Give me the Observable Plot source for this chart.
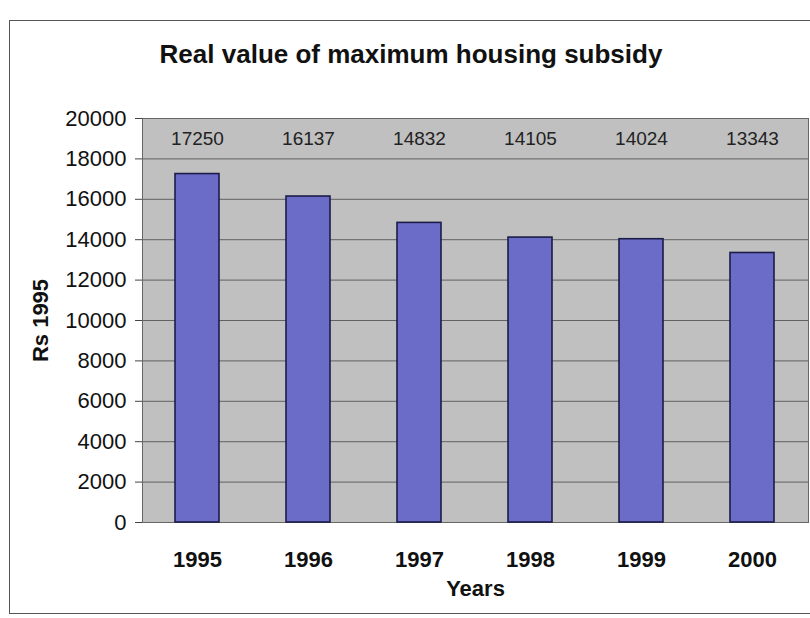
<!DOCTYPE html>
<html>
<head>
<meta charset="utf-8">
<script src="https://cdn.jsdelivr.net/npm/d3@7"></script>
<script src="https://cdn.jsdelivr.net/npm/@observablehq/plot@0.6"></script>
<style>
  html, body { margin: 0; padding: 0; background: #fff; }
  #wrap { position: relative; width: 810px; height: 618px; overflow: hidden; font-family: "Liberation Sans", Arial, sans-serif; }
  #border { position: absolute; left: 9px; top: 20px; width: 820px; height: 594px; border: 1.5px solid #555; border-right: none; box-sizing: border-box; }
  #title { position: absolute; left: 0; width: 822px; top: 39px; text-align: center; font-weight: bold; font-size: 26px; color: #111; }
  #chart { position: absolute; left: 0; top: 0; }
</style>
</head>
<body>
<div id="wrap">
  <div id="border"></div>
  <div id="chart"></div>
  <div id="title">Real value of maximum housing subsidy</div>
</div>
<script>
const years = ["1995", "1996", "1997", "1998", "1999", "2000"];
const values = [17250, 16137, 14832, 14105, 14024, 13343];
const yTicks = [0, 2000, 4000, 6000, 8000, 10000, 12000, 14000, 16000, 18000, 20000];
const labelLevel = 19000;

const data = years.map((year, i) => ({ year, value: values[i] }));

const chart = Plot.plot({
  width: 810,
  height: 618,
  marginTop: 118,
  marginBottom: 96,
  marginLeft: 142,
  marginRight: 2,
  style: { fontFamily: "'Liberation Sans', Arial, sans-serif", background: "transparent", color: "#111" },
  x: { domain: years, paddingInner: 0.6, paddingOuter: 0.3, label: null },
  y: { domain: [0, 20000], label: null },
  marks: [
    Plot.frame({ fill: "#c0c0c0", stroke: null }),
    Plot.gridY(yTicks, { stroke: "#222", strokeOpacity: 0.6, strokeWidth: 1 }),
    Plot.frame({ stroke: "#666", strokeWidth: 1 }),
    Plot.barY(data, { x: "year", y: "value", fill: "#6b6bc8", stroke: "#1c1c4a", strokeWidth: 1.6 }),
    Plot.text(data, { x: "year", y: () => labelLevel, text: d => String(d.value), fontSize: 19, fill: "#222" }),
    Plot.axisY(yTicks, { tickSize: 7, tickPadding: 9, fontSize: 22, tickFormat: d => String(d), label: null, stroke: "#444" }),
    Plot.axisX({ tickSize: 0, tickPadding: 29, fontSize: 22, fontWeight: "bold", label: null }),
    Plot.text(["Years"], { frameAnchor: "bottom", lineAnchor: "middle", dy: 66, fontSize: 22, fontWeight: "bold", fill: "#111" }),
    Plot.text(["Rs 1995"], { frameAnchor: "left", textAnchor: "middle", dx: -102, rotate: -90, fontSize: 22, fontWeight: "bold", fill: "#111" })
  ]
});
document.getElementById("chart").appendChild(chart);
</script>
</body>
</html>
